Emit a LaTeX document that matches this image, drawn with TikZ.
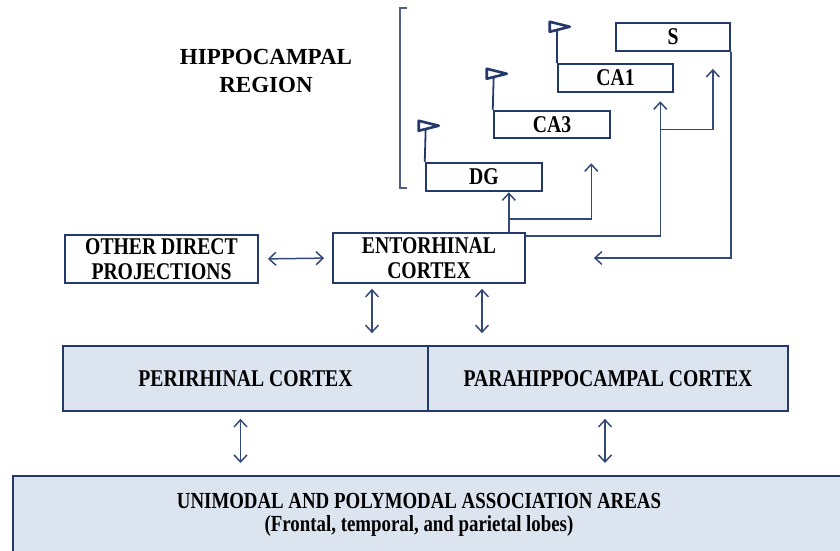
\documentclass[tikz,border=0pt]{standalone}
\usepackage{fontspec}
\setmainfont{Liberation Serif}
\newfontfamily\boxfont{Liberation Serif}[FakeStretch=0.82]
\usepackage{tikz}
\usetikzlibrary{calc,arrows.meta}
\definecolor{navy}{RGB}{36,56,108}
\definecolor{linkblue}{RGB}{52,72,122}
\definecolor{paleblue}{RGB}{220,228,240}
\tikzset{
  barb/.tip={Straight Barb[length=7pt,width=13pt]},
  box/.style={draw=navy, line width=1.7pt, fill=white, inner sep=0pt, align=center,
    font=\boxfont\fontsize{24}{25}\selectfont\bfseries},
  hbox/.style={box, line width=2.5pt},
  areabox/.style={box, fill=paleblue},
  link/.style={draw=linkblue, line width=1.5pt},
  one/.style={link, -barb},
  dbl/.style={link, barb-barb},
  stem/.style={draw=navy, line width=1.8pt},
  flag/.style={draw=navy, line width=2.6pt, fill=white, line join=round}
}

\begin{document}
\begin{tikzpicture}[x=1pt,y=-1pt]
      \useasboundingbox (0,0) rectangle (840,550);
      \clip (0,0) rectangle (840,550);
      \node[font=\fontsize{23}{28}\selectfont\bfseries, align=center] (region) at (266,71) {HIPPOCAMPAL\\REGION};
      \draw[draw=navy!80, line width=1.3pt] (407,8) -- (400,8) -- (400,188) -- (407,188);

      \node[box, minimum width=114, minimum height=28] (s) at (673,37) {S};
      \node[hbox, minimum width=115, minimum height=28] (ca1) at (615.5,78) {CA1};
      \node[hbox, minimum width=116, minimum height=27] (ca3) at (552,124.5) {CA3};
      \node[hbox, minimum width=116, minimum height=28] (dg) at (484,177) {DG};

      \draw[stem] (dg.north west) -- ++(1,-36) coordinate (dgflag);
      \draw[flag] (dgflag) ++(-7,-5) -- ++(20,5) -- ++(-20,5) -- cycle;
      \draw[stem] (ca3.north west) -- ++(1,-36) coordinate (caflag);
      \draw[flag] (caflag) ++(-7,-5) -- ++(20,5) -- ++(-20,5) -- cycle;
      \draw[stem] (ca1.north west) -- ++(0,-36) coordinate (cbflag);
      \draw[flag] (cbflag) ++(-7,-5) -- ++(20,5) -- ++(-20,5) -- cycle;

      \node[box, minimum width=193, minimum height=48] (other) at (161.5,259) {OTHER DIRECT\\PROJECTIONS};
      \node[box, minimum width=192, minimum height=50] (ento) at (429,258) {ENTORHINAL\\CORTEX};
      \node[areabox, minimum width=365, minimum height=65] (peri) at (245.5,378.5) {PERIRHINAL CORTEX};
      \node[areabox, minimum width=360, minimum height=65] (para) at (608,378.5) {PARAHIPPOCAMPAL CORTEX};
      \node[areabox, minimum width=850, minimum height=90, anchor=north west] (uni) at (12,475) {};
      \node[align=center, font=\boxfont\fontsize{23}{23}\selectfont\bfseries] (unitext) at (419,515)
        {UNIMODAL AND POLYMODAL ASSOCIATION AREAS\\(Frontal, temporal, and parietal lobes)};

      \coordinate (fork) at ([xshift=-17pt]ento.north east);
      \coordinate (split) at ($(fork)+(0,-13)$);
      \draw[one] (fork) -- (fork |- dg.south);
      \draw[one] (split) -| ([xshift=-20pt,yshift=-24pt]ca3.south east);
      \draw[one] ([yshift=-4pt]ento.north east) -| ([xshift=-14pt,yshift=-8pt]ca1.south east);
      \coordinate (ca1fork) at ($(ca1.south east)+(-14,36)$);
      \draw[one] (ca1fork) -| ([xshift=-18pt,yshift=-17pt]s.south east);
      \draw[one] (s.south east) |- ([xshift=68pt]ento.east);

      \draw[dbl, shorten <=9pt, shorten >=8pt] (other.east) -- (ento.west);
      \draw[dbl, shorten <=5pt, shorten >=12pt] ([xshift=-57pt]ento.south) -- ([xshift=-57pt]ento.south |- peri.north);
      \draw[dbl, shorten <=5pt, shorten >=12pt] ([xshift=53pt]ento.south) -- ([xshift=53pt]ento.south |- para.north);
      \draw[dbl, shorten <=7pt, shorten >=12pt] ([xshift=-5pt]peri.south) -- ([xshift=-5pt]peri.south |- uni.north);
      \draw[dbl, shorten <=7pt, shorten >=12pt] ([xshift=-3pt]para.south) -- ([xshift=-3pt]para.south |- uni.north);
    \end{tikzpicture}
\end{document}
